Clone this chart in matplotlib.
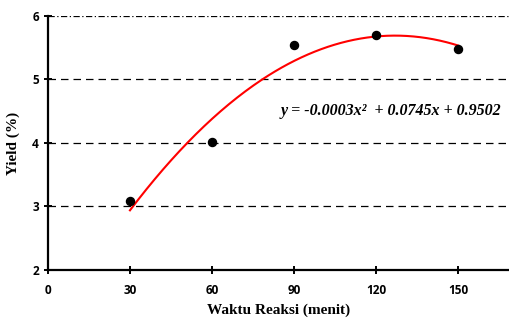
import numpy as np
import matplotlib
matplotlib.use('Agg')
import matplotlib.pyplot as plt

waktu = [30, 60, 90, 120, 150]
yield_pct = [3.08, 4.01, 5.55, 5.70, 5.48]
x_ticks = [0, 30, 60, 90, 120, 150]
y_ticks = [2, 3, 4, 5, 6]
eq_label = 'y = -0.0003x²  + 0.0745x + 0.9502'

coef = np.polyfit(waktu, yield_pct, 2)
xf = np.linspace(min(waktu), max(waktu), 200)
yf = np.polyval(coef, xf)

fig = plt.figure(figsize=(5.1, 3.26), dpi=100)
ax = fig.add_axes([0.094, 0.172, 0.906, 0.779])

for yv in [3, 4, 5]:
    ax.axhline(yv, color='black', lw=0.9, ls=(0, (6, 4)), zorder=1)
ax.axhline(6, color='black', lw=0.9, ls=(0, (5, 2, 1, 2)), zorder=1)

ax.plot(xf, yf, color='red', lw=1.5, zorder=2)
ax.plot(waktu, yield_pct, 'o', color='black', ms=5.8, zorder=3)

ax.set_xlim(0, 169)
ax.set_ylim(2, 6)
ax.set_xticks(x_ticks)
ax.set_yticks(y_ticks)
for s in ['top', 'right']:
    ax.spines[s].set_visible(False)
for s in ['left', 'bottom']:
    ax.spines[s].set_linewidth(1.6)
ax.tick_params(direction='inout', length=6, width=1.4, labelsize=8.5)
ax.tick_params(axis='x', pad=7)
for lab in ax.get_xticklabels() + ax.get_yticklabels():
    lab.set_fontweight('bold')
    lab.set_family('Open Sans')

ax.set_xlabel('Waktu Reaksi (menit)', family='Liberation Serif', fontweight='bold', fontsize=11, labelpad=5)
ax.set_ylabel('Yield (%)', family='Liberation Serif', fontweight='bold', fontsize=11, labelpad=9)

ax.text(125.5, 4.5, eq_label, family='Liberation Serif', fontweight='bold', style='italic',
        fontsize=11.5, ha='center', va='center')

fig.savefig('out.png', dpi=100)
